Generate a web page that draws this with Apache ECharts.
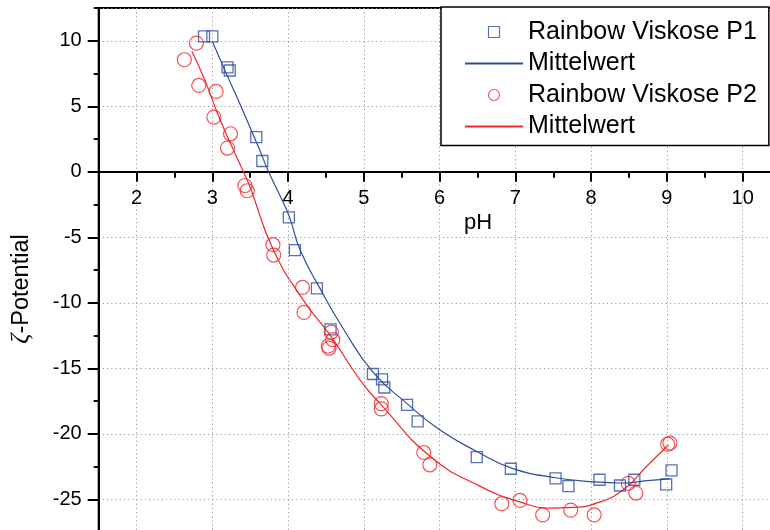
<!DOCTYPE html>
<html>
<head>
<meta charset="utf-8">
<script src="https://cdn.jsdelivr.net/npm/echarts@6/dist/echarts.min.js"></script>
<style>
html, body { margin: 0; padding: 0; background: #fff; }
#chart { width: 770px; height: 530px; }
</style>
</head>
<body>
<div id="chart"></div>
<script>
// measured points, Rainbow Viskose P1 (squares)
const p1X = [2.89, 3.0, 3.2, 3.23, 3.58, 3.66, 4.01, 4.09, 4.38, 4.56, 5.12, 5.24, 5.27, 5.57, 5.71, 6.49, 6.94, 7.53, 7.70, 8.11, 8.38, 8.57, 8.99, 9.06]
const p1Y = [10.33, 10.33, 7.96, 7.73, 2.64, 0.82, -3.49, -5.98, -8.9, -12.04, -15.44, -15.85, -16.47, -17.8, -19.06, -21.78, -22.67, -23.41, -24.0, -23.51, -23.95, -23.51, -23.87, -22.8]

// measured points, Rainbow Viskose P2 (circles)
const p2X = [2.79, 2.63, 2.82, 3.05, 3.02, 3.24, 3.2, 3.43, 3.46, 3.8, 3.81, 4.19, 4.21, 4.57, 4.59, 4.54, 4.53, 5.23, 5.23, 5.79, 5.87, 6.82, 7.06, 7.36, 7.73, 8.04, 8.49, 8.59, 9.04, 9.01]
const p2Y = [9.82, 8.55, 6.59, 6.13, 4.17, 2.9, 1.81, -1.05, -1.45, -5.57, -6.36, -8.83, -10.74, -12.24, -12.82, -13.46, -13.3, -17.7, -18.1, -21.43, -22.37, -25.34, -25.09, -26.2, -25.83, -26.2, -23.79, -24.53, -20.71, -20.8]

// Mittelwert curves
const m1X = [3.0, 3.2, 3.4, 3.6, 3.75, 3.9, 4.02, 4.16, 4.42, 4.73, 5.12, 5.57, 6.0, 6.49, 6.94, 7.53, 8.1, 8.38, 8.78, 9.04]
const m1Y = [9.95, 7.3, 4.7, 2.0, -0.1, -1.9, -3.5, -6.0, -8.9, -12.0, -15.3, -17.7, -19.7, -21.35, -22.6, -23.36, -23.7, -23.76, -23.56, -23.44]
const m2X = [2.73, 2.9, 3.1, 3.3, 3.41, 3.5, 3.8, 4.2, 4.57, 4.95, 5.23, 5.87, 6.53, 7.06, 7.46, 7.76, 8.07, 8.42, 8.73, 9.02]
const m2Y = [9.2, 7.0, 4.0, 1.4, 0, -1.2, -5.9, -9.8, -12.6, -15.9, -17.8, -21.7, -24.0, -25.2, -25.67, -25.62, -25.3, -24.3, -22.5, -20.84]

const seriesNames = ['Rainbow Viskose P1', 'Mittelwert', 'Rainbow Viskose P2', 'Mittelwert ']
const xLabel = 'pH'
const yLabel = '{g|ζ}-Potential'

const toPairs = (xs, ys) => xs.map((x, i) => [x, ys[i]])

const blue = '#2d4d9f'
const red = '#f2262b'
const font = 'Liberation Sans, Arial, sans-serif'
const squareIcon = 'path://M0,0L10,0L10,10L0,10Z'
const noSymbol = { color: 'transparent', borderWidth: 0, opacity: 0 }

// the x axis sits on y = 0; drawn as a 'top' axis pushed down so its labels hang below it
const gridTop = 8
const zeroOffset = -(171.75 - gridTop)

const chart = echarts.init(document.getElementById('chart'), null, { renderer: 'canvas' })

const option = {
  animation: false,
  backgroundColor: '#fff',
  grid: {
    left: 98.7,
    top: gridTop,
    right: -3,
    bottom: -34.75,
    show: true,
    borderColor: '#000',
    borderWidth: 2,
    outerBoundsMode: 'none'
  },
  legend: {
    data: [
      { name: seriesNames[0], icon: squareIcon, itemStyle: { color: 'transparent', borderColor: blue, borderWidth: 1.2 } },
      { name: seriesNames[1], itemStyle: noSymbol },
      { name: seriesNames[2], icon: 'circle', itemStyle: { color: 'transparent', borderColor: red, borderWidth: 1.2 } },
      { name: seriesNames[3], itemStyle: noSymbol }
    ],
    orient: 'vertical',
    left: 441,
    top: 7,
    padding: [12.5, 12, 6.5, 23],
    itemWidth: 58,
    itemHeight: 11,
    itemGap: 6.5,
    symbolKeepAspect: true,
    backgroundColor: '#fff',
    borderColor: '#000',
    borderWidth: 1.5,
    textStyle: { fontSize: 25, color: '#000', fontFamily: font }
  },
  xAxis: [
    {
      type: 'value',
      position: 'top',
      offset: zeroOffset,
      min: 1.5,
      max: 10.4,
      splitNumber: 9,
      axisLine: { onZero: false, lineStyle: { color: '#000', width: 2 } },
      axisTick: { inside: true, length: 10, lineStyle: { color: '#000', width: 2 } },
      axisLabel: {
        inside: true,
        color: '#000', fontSize: 20, fontFamily: font, margin: 17,
        showMinLabel: false, showMaxLabel: false
      },
      splitLine: { show: true, lineStyle: { color: '#999', type: [1.2, 3], width: 1 } }
    },
    {
      // minor ticks every 0.5
      type: 'value',
      position: 'top',
      offset: zeroOffset,
      min: 1.5,
      max: 10.4,
      interval: 0.5,
      axisLine: { show: false, onZero: false },
      axisTick: { inside: true, length: 6, lineStyle: { color: '#000', width: 2 } },
      axisLabel: { show: false },
      splitLine: { show: false }
    }
  ],
  yAxis: [
    {
      type: 'value',
      min: -30,
      max: 12.5,
      interval: 5,
      axisLine: { show: true, onZero: false, lineStyle: { color: '#000', width: 2 } },
      axisTick: { show: true, length: 11, lineStyle: { color: '#000', width: 2 } },
      axisLabel: {
        color: '#000', fontSize: 20, fontFamily: font, margin: 17,
        showMaxLabel: false
      },
      splitLine: { show: true, lineStyle: { color: '#999', type: [1.2, 3], width: 1 } }
    },
    {
      // minor ticks every 2.5
      type: 'value',
      position: 'left',
      min: -30,
      max: 12.5,
      interval: 2.5,
      axisLine: { show: false, onZero: false },
      axisTick: { show: true, length: 5, lineStyle: { color: '#000', width: 2 } },
      axisLabel: { show: false },
      splitLine: { show: false }
    }
  ],
  graphic: [
    {
      type: 'text',
      x: 478, y: 222.5,
      style: { text: xLabel, fontSize: 22, fontFamily: font, fill: '#000', align: 'center', verticalAlign: 'middle' }
    },
    {
      type: 'text',
      x: 21.5, y: 289,
      rotation: Math.PI / 2,
      style: {
        text: yLabel, fontSize: 23.5, fontFamily: font, fill: '#000', align: 'center', verticalAlign: 'middle',
        rich: { g: { fontSize: 25, fontStyle: 'italic', fontFamily: 'Liberation Serif, serif', fill: '#000' } }
      }
    }
  ],
  series: [
    {
      name: seriesNames[0],
      type: 'scatter',
      symbol: 'rect',
      symbolSize: 11,
      itemStyle: { color: 'transparent', borderColor: blue, borderWidth: 1.3 },
      data: toPairs(p1X, p1Y),
      z: 3
    },
    {
      name: seriesNames[1],
      type: 'line',
      smooth: true,
      symbol: 'none',
      lineStyle: { color: blue, width: 1.2 },
      itemStyle: { color: blue },
      data: toPairs(m1X, m1Y)
    },
    {
      name: seriesNames[2],
      type: 'scatter',
      symbol: 'circle',
      symbolSize: 14,
      itemStyle: { color: 'transparent', borderColor: red, borderWidth: 1.2 },
      data: toPairs(p2X, p2Y),
      z: 3
    },
    {
      name: seriesNames[3],
      type: 'line',
      smooth: true,
      symbol: 'none',
      lineStyle: { color: red, width: 1.2 },
      itemStyle: { color: red },
      data: toPairs(m2X, m2Y)
    }
  ]
}

chart.setOption(option)
</script>
</body>
</html>
